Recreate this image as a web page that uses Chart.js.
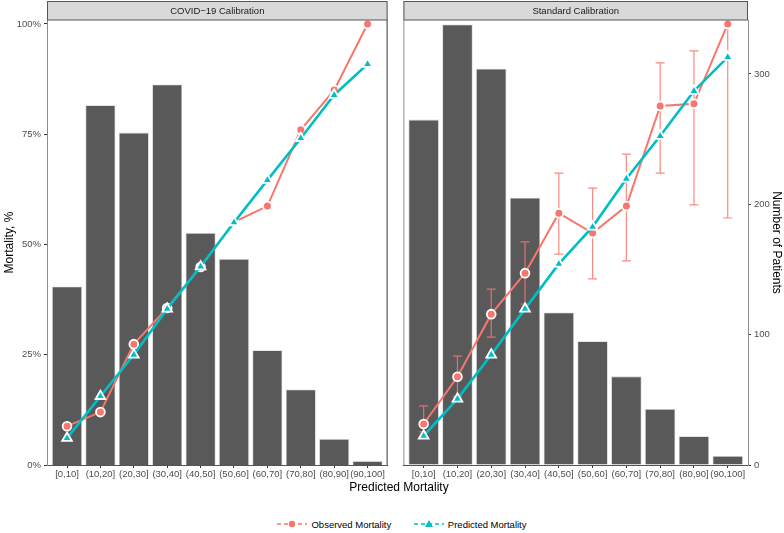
<!DOCTYPE html>
<html>
<head>
<meta charset="utf-8">
<script src="https://cdn.jsdelivr.net/npm/chart.js@4.4.1/dist/chart.umd.min.js"></script>
<style>
  body { margin: 0; background: #fff; font-family: "Liberation Sans", Arial, sans-serif; }
  #wrap { position: relative; width: 784px; height: 533px; }
  canvas { position: absolute; top: 0; }
  #xtitle { position: absolute; top: 480px; left: 0; width: 798px; text-align: center; font-size: 12px; color: #000; }
  #legend { position: absolute; top: 518px; left: 0; width: 804px; text-align: center; font-size: 9.5px; color: #000; }
  #legend span { display: inline-flex; align-items: center; margin: 0 10px; }
  #legend svg { margin-right: 4px; }
</style>
</head>
<body>
<div id="wrap">
  <canvas id="covid" width="395" height="485" style="left:0"></canvas>
  <canvas id="standard" width="388" height="485" style="left:396px"></canvas>
  <div id="xtitle">Predicted Mortality</div>
  <div id="legend">
    <span><svg width="30" height="12"><line x1="0" y1="6" x2="30" y2="6" stroke="#F8766D" stroke-width="1.6" stroke-dasharray="4,3"/><circle cx="15" cy="6" r="3.2" fill="#F8766D"/></svg>Observed Mortality</span>
    <span><svg width="30" height="12"><line x1="0" y1="6" x2="30" y2="6" stroke="#00BFC4" stroke-width="1.6" stroke-dasharray="4,3"/><polygon points="15,2 19,9 11,9" fill="#00BFC4"/></svg>Predicted Mortality</span>
  </div>
</div>
<script>
const cats = ['[0,10]', '(10,20]', '(20,30]', '(30,40]', '(40,50]', '(50,60]', '(60,70]', '(70,80]', '(80,90]', '(90,100]'];
const pctTicks = [0, 25, 50, 75, 100];
const countTicks = [0, 100, 200, 300];

// COVID-19 calibration panel
const covidPatients = [137, 276, 255, 292, 178, 158, 88, 58, 20, 3];
const covidObserved = [8.8, 12.0, 27.4, 35.6, 44.9, 55.1, 58.7, 76.0, 85.0, 100];
const covidPredicted = [6.1, 15.6, 25.0, 35.4, 45.0, 55.0, 64.6, 74.1, 83.9, 90.9];

// Standard calibration panel
const stdPatients = [265, 338, 304, 205, 117, 95, 68, 43, 22, 7];
const stdObserved = [9.3, 20.0, 34.2, 43.5, 57.1, 52.6, 58.7, 81.4, 81.9, 100];
const stdPredicted = [6.6, 15.0, 25.0, 35.4, 45.6, 54.0, 64.9, 74.6, 84.8, 92.5];
const stdObsLow = [7.5, 15.5, 29.0, 36.5, 47.8, 42.2, 46.3, 66.2, 59.0, 56.0];
const stdObsHigh = [13.4, 24.7, 39.9, 50.6, 66.2, 62.8, 70.5, 91.2, 93.9, 100];

const RED = '#F8766D';
const CYAN = '#00BFC4';
const FONT = '"Liberation Sans", Arial, sans-serif';

const xy = arr => arr.map((v, i) => ({ x: i, y: v }));

function datasets(patients, observed, predicted) {
    return [
        {
            type: 'bar', data: xy(patients), yAxisID: 'yN', order: 10,
            backgroundColor: '#595959', borderColor: '#cfcfcf', borderWidth: 0.8,
            barPercentage: 0.9, categoryPercentage: 1
        },
        {
            type: 'line', data: xy(observed), yAxisID: 'y', order: 2, clip: false,
            borderColor: RED, borderWidth: 2, backgroundColor: RED,
            pointStyle: 'circle', pointRadius: 4.4, pointBorderColor: '#fff', pointBorderWidth: 1.8
        },
        {
            type: 'line', data: xy(predicted), yAxisID: 'y', order: 1, clip: false,
            borderColor: CYAN, borderWidth: 2.6, backgroundColor: CYAN,
            pointStyle: 'triangle', pointRadius: 5.6, pointBorderColor: '#fff', pointBorderWidth: 1.8
        }
    ];
}

// grey facet strip above each panel + panel edges
function stripPlugin(label, leftEdgeColor, rightEdgeColor) {
    return {
        id: 'strip',
        afterDraw(chart) {
            const { ctx, chartArea: a } = chart;
            ctx.save();
            ctx.fillStyle = '#d9d9d9';
            ctx.fillRect(a.left, 1, a.right - a.left, a.top - 1);
            ctx.strokeStyle = '#555';
            ctx.lineWidth = 1;
            ctx.strokeRect(a.left + 0.5, 1.5, a.right - a.left - 1, a.top - 1.5);
            ctx.fillStyle = '#1a1a1a';
            ctx.font = '9.5px ' + FONT;
            ctx.textAlign = 'center';
            ctx.textBaseline = 'middle';
            ctx.fillText(label, (a.left + a.right) / 2, (a.top + 1) / 2 + 0.5);
            ctx.beginPath();
            if (rightEdgeColor) {
                ctx.strokeStyle = rightEdgeColor;
                ctx.moveTo(a.right - 0.5, a.top);
                ctx.lineTo(a.right - 0.5, a.bottom);
            }
            ctx.stroke();
            ctx.beginPath();
            if (leftEdgeColor) {
                ctx.strokeStyle = leftEdgeColor;
                ctx.moveTo(a.left + 0.5, a.top);
                ctx.lineTo(a.left + 0.5, a.bottom);
            }
            ctx.stroke();
            ctx.restore();
        }
    };
}

// error bars for observed mortality, drawn right after the bars
function errorPlugin(low, high) {
    return {
        id: 'errbars',
        afterDatasetDraw(chart, args) {
            if (args.meta.type !== 'bar') return;
            const { ctx } = chart;
            const xs = chart.scales.x, ys = chart.scales.y;
            ctx.save();
            ctx.strokeStyle = 'rgba(248,118,109,0.85)';
            ctx.lineWidth = 1.2;
            low.forEach((lo, i) => {
                const x = xs.getPixelForValue(i);
                const y1 = ys.getPixelForValue(lo), y2 = ys.getPixelForValue(high[i]);
                ctx.beginPath();
                ctx.moveTo(x, y1); ctx.lineTo(x, y2);
                ctx.moveTo(x - 4.5, y1); ctx.lineTo(x + 4.5, y1);
                if (high[i] < 100) { ctx.moveTo(x - 4.5, y2); ctx.lineTo(x + 4.5, y2); }
                ctx.stroke();
            });
            ctx.restore();
        }
    };
}

function scales(showLeft, showRight) {
    const tickFont = { family: FONT, size: 9.5 };
    return {
        x: {
            type: 'linear', min: -0.6, max: 9.6, offset: false,
            afterBuildTicks: s => { s.ticks = cats.map((c, i) => ({ value: i })); },
            afterFit: s => { s.height = 20; },
            ticks: { callback: v => cats[v], autoSkip: false, maxRotation: 0, color: '#4d4d4d', font: tickFont, padding: 1 },
            grid: { offset: false, drawOnChartArea: false, tickLength: 3, color: '#333' },
            border: { color: '#555' }
        },
        y: {
            display: showLeft, position: 'left', min: 0, max: 100.9,
            afterBuildTicks: s => { s.ticks = pctTicks.map(v => ({ value: v })); },
            afterFit: s => { s.width = showLeft ? 47 : 0; },
            ticks: { callback: v => v + '%', color: '#4d4d4d', font: tickFont, padding: 3 },
            grid: { drawOnChartArea: false, tickLength: 3, color: '#333' },
            border: { color: '#8c8c8c' },
            title: { display: true, text: 'Mortality, %', color: '#000', font: { family: FONT, size: 12 }, padding: { top: 2 } }
        },
        yN: {
            display: showRight, position: 'right', min: 0, max: 341.4,
            afterBuildTicks: s => { s.ticks = countTicks.map(v => ({ value: v })); },
            afterFit: s => { s.width = showRight ? 36 : 0; },
            ticks: { color: '#4d4d4d', font: tickFont, padding: 3 },
            grid: { drawOnChartArea: false, tickLength: 3, color: '#333' },
            border: { color: '#8c8c8c' },
            title: { display: true, text: 'Number of Patients', color: '#000', font: { family: FONT, size: 12 }, padding: { top: 0 } }
        }
    };
}

const common = {
    responsive: false,
    animation: false,
    devicePixelRatio: 1,
    plugins: { legend: { display: false }, tooltip: { enabled: false } }
};

new Chart(document.getElementById('covid'), {
    type: 'bar',
    data: { datasets: datasets(covidPatients, covidObserved, covidPredicted) },
    options: Object.assign({}, common, {
        layout: { padding: { top: 20, right: 0.6, left: 0, bottom: 0 } },
        scales: scales(true, false)
    }),
    plugins: [stripPlugin('COVID\u221219 Calibration', null, '#333')]
});

new Chart(document.getElementById('standard'), {
    type: 'bar',
    data: { datasets: datasets(stdPatients, stdObserved, stdPredicted) },
    options: Object.assign({}, common, {
        layout: { padding: { top: 20, right: 0, left: 5, bottom: 0 } },
        scales: scales(false, true)
    }),
    plugins: [stripPlugin('Standard Calibration', '#8c8c8c', null), errorPlugin(stdObsLow, stdObsHigh)]
});
</script>
</body>
</html>
